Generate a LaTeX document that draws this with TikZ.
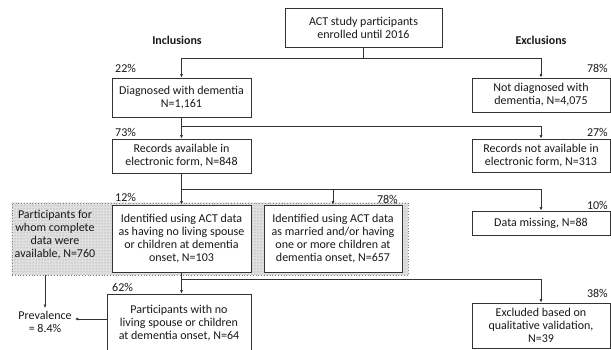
\documentclass[tikz,border=0pt]{standalone}
\usepackage{fontspec}
\setmainfont{Carlito}
\usetikzlibrary{arrows.meta,calc,patterns}
\begin{document}
\begin{tikzpicture}[x=1pt,y=-1pt,
  every node/.style={font=\fontsize{12}{13}\selectfont, text=black!90},
  box/.style={draw=black!80, line width=0.8pt, fill=white, align=center, inner sep=0pt},
  lab/.style={inner sep=0pt},
  head/.style={inner sep=0pt, font=\fontsize{12}{13}\selectfont\bfseries},
  region/.style={draw=black!50, dotted, line width=0.8pt, fill=black!12, inner sep=0pt},
  link/.style={draw=black!80, line width=0.8pt},
  arr/.style={link, -{Latex[length=3.5pt,width=3pt]}}
]
\useasboundingbox (0,0) rectangle (611,350);

% headings
\node[head] (incl) at (177,40) {Inclusions};
\node[head] (excl) at (541,40) {Exclusions};

% top
\node[box, minimum width=157pt, minimum height=39pt] (top) at (363.5,27.5) {ACT study participants\\enrolled until 2016};

% level 1
\node[box, minimum width=139pt, minimum height=39pt] (diag) at (181.5,97.5) {Diagnosed with dementia\\N=1,161};
\node[box, minimum width=138pt, minimum height=34pt] (nd) at (541,95) {Not diagnosed with\\dementia, N=4,075};
\node[lab, anchor=west] (p22) at (115,68) {22\%};
\node[lab, anchor=east] (p78) at (608,68) {78\%};

% level 2
\node[box, minimum width=139pt, minimum height=34pt] (rec) at (181.5,156) {Records available in\\electronic form, N=848};
\node[box, minimum width=138pt, minimum height=33pt] (rnot) at (541,155.5) {Records not available in\\electronic form, N=313};
\node[lab, anchor=west] (p73) at (115,132) {73\%};
\node[lab, anchor=east] (p27) at (608,132) {27\%};

% level 3
\node[region, minimum width=396pt, minimum height=72pt] (dots) at (210,239) {};
\fill[pattern=dots, pattern color=black!45] (dots.north west) rectangle (dots.south east);
\node[align=center, inner sep=0pt] (pfor) at (55,235) {Participants for\\whom complete\\data were\\available, N=760};
\node[box, minimum width=139pt, minimum height=67pt] (id1) at (181.5,238.5) {Identified using ACT data\\as having no living spouse\\or children at dementia\\onset, N=103};
\node[box, minimum width=138pt, minimum height=67pt] (id2) at (333,238.5) {Identified using ACT data\\as married and/or having\\one or more children at\\dementia onset, N=657};
\node[box, minimum width=138pt, minimum height=24pt] (dm) at (541,223) {Data missing, N=88};
\node[lab, anchor=west] (p12) at (115,197) {12\%};
\node[lab, anchor=east] (p78b) at (398,199) {78\%};
\node[lab, anchor=east] (p10) at (608,205) {10\%};

% level 4
\node[box, minimum width=144pt, minimum height=58pt] (part) at (179,323) {Participants with no\\living spouse or children\\at dementia onset, N=64};
\node[box, minimum width=138pt, minimum height=45pt] (exb) at (541,325.5) {Excluded based on\\qualitative validation,\\N=39};
\node[align=center, inner sep=3pt] (prev) at (45,322) {Prevalence\\= 8.4\%};
\node[lab, anchor=west] (p62) at (112,287) {62\%};
\node[lab, anchor=east] (p38) at (608,293) {38\%};

% junctions
\coordinate (j1) at (363.5,58);
\coordinate (j2) at (181.5,126);
\coordinate (j3) at (181.5,189);
\coordinate (j4) at (181.5,279);

% connectors
\draw[link] (top.south) -- (j1);
\draw[arr] (j1) -| (diag.north);
\draw[arr] (j1) -| (nd.north);

\draw[link] (diag.south) -- (j2);
\draw[arr] (j2) -- (rec.north);
\draw[arr] (j2) -| (rnot.north);

\draw[link] (rec.south) -- (j3);
\draw[arr] (j3) -- (id1.north);
\draw[arr] (j3) -| (id2.north);
\draw[arr] (j3) -| (dm.north);

\draw[link] (id1.south) -- (j4);
\draw[arr] (j4) -- (j4 |- part.north);
\draw[arr] (j4) -| (exb.north);

\draw[arr] (part.west |- 0,319) -- (prev.east |- 0,319);
\draw[arr] (dots.south -| prev.north) -- (prev.north);
\end{tikzpicture}
\end{document}
